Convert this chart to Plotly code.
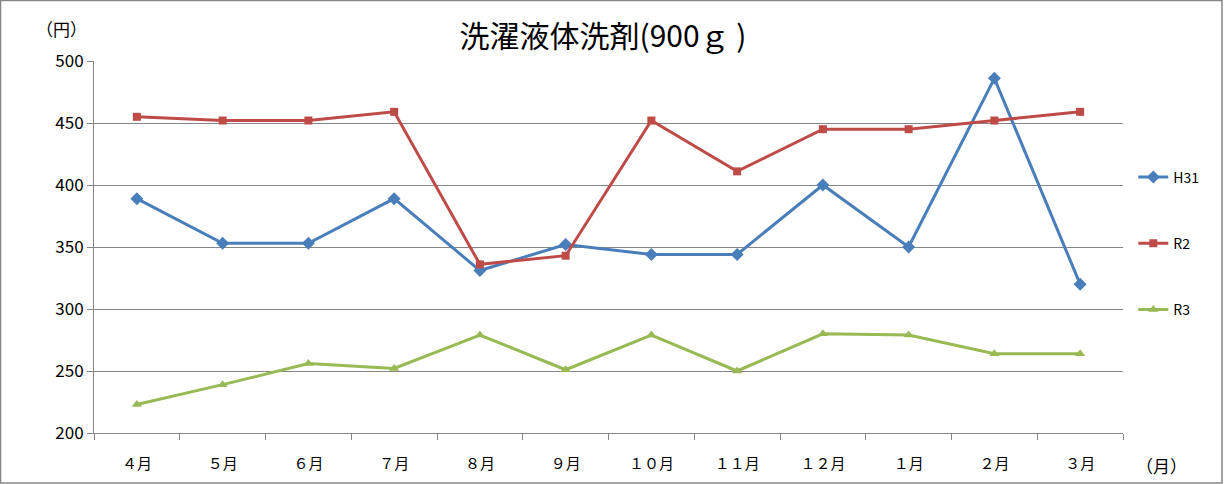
import plotly.graph_objects as go

months = ["４月", "５月", "６月", "７月", "８月", "９月", "１０月", "１１月", "１２月", "１月", "２月", "３月"]
h31 = [389, 353, 353, 389, 331, 352, 344, 344, 400, 350, 486, 320]
r2 = [455, 452, 452, 459, 336, 343, 452, 411, 445, 445, 452, 459]
r3 = [223, 239, 256, 252, 279, 251, 279, 250, 280, 279, 264, 264]
y_ticks = [200, 250, 300, 350, 400, 450, 500]

FONT = "Noto Sans CJK JP"

fig = go.Figure()
series = [
    ("H31", h31, "#4A7EBB", "diamond", 10),
    ("R2", r2, "#BE4B48", "square", 8),
    ("R3", r3, "#98B954", "triangle-up", 9),
]
for name, vals, color, sym, size in series:
    fig.add_trace(go.Scatter(
        x=months, y=vals, name=name, mode="lines+markers",
        line=dict(color=color, width=3),
        marker=dict(symbol=sym, size=size, color=color),
        legendgroup=name,
    ))

fig.update_layout(
    width=1224, height=484,
    paper_bgcolor="white", plot_bgcolor="white",
    margin=dict(l=94, r=101, t=61, b=51),
    font=dict(family=FONT, size=15, color="#000000"),
    title=dict(text="洗濯液体洗剤(900ｇ )", x=603/1224, xanchor="center", y=0.925, yanchor="middle",
               font=dict(family=FONT, size=30, color="#000000")),
    showlegend=True,
    legend=dict(x=1.01, xanchor="left", y=0.73, yanchor="top",
                font=dict(family=FONT, size=14, color="#000000"),
                tracegroupgap=45, itemwidth=30, bgcolor="rgba(0,0,0,0)"),
    xaxis=dict(
        range=[-0.5, len(months) - 0.5],
        showgrid=False, showline=True, linecolor="#868686", linewidth=1,
        ticks="outside", ticklen=6, tickcolor="#868686",
        tickson="boundaries", tickfont=dict(size=15), ticklabelstandoff=17,
    ),
    yaxis=dict(
        range=[200, 500], tickvals=y_ticks, showgrid=True, gridcolor="#868686", gridwidth=1,
        showline=True, linecolor="#868686", linewidth=1, zeroline=False,
        ticks="outside", ticklen=6, tickcolor="#868686", tickfont=dict(size=17),
    ),
    shapes=[dict(type="rect", xref="paper", yref="paper", x0=-93.5/1029, x1=1+99/1029,
                 y0=-50/372, y1=1+60.5/372, line=dict(color="#868686", width=1.5))],
    annotations=[
        dict(text="（円）", xref="paper", yref="paper", x=-33/1029, y=1+33/372,
             showarrow=False, xanchor="center", yanchor="middle", font=dict(size=17)),
        dict(text="（月）", xref="paper", yref="paper", x=1+38/1029, y=-32/372,
             showarrow=False, xanchor="center", yanchor="middle", font=dict(size=17)),
    ],
)

fig.write_html("out.html", config={"displayModeBar": False},
               post_script="document.body.style.margin='0';")
